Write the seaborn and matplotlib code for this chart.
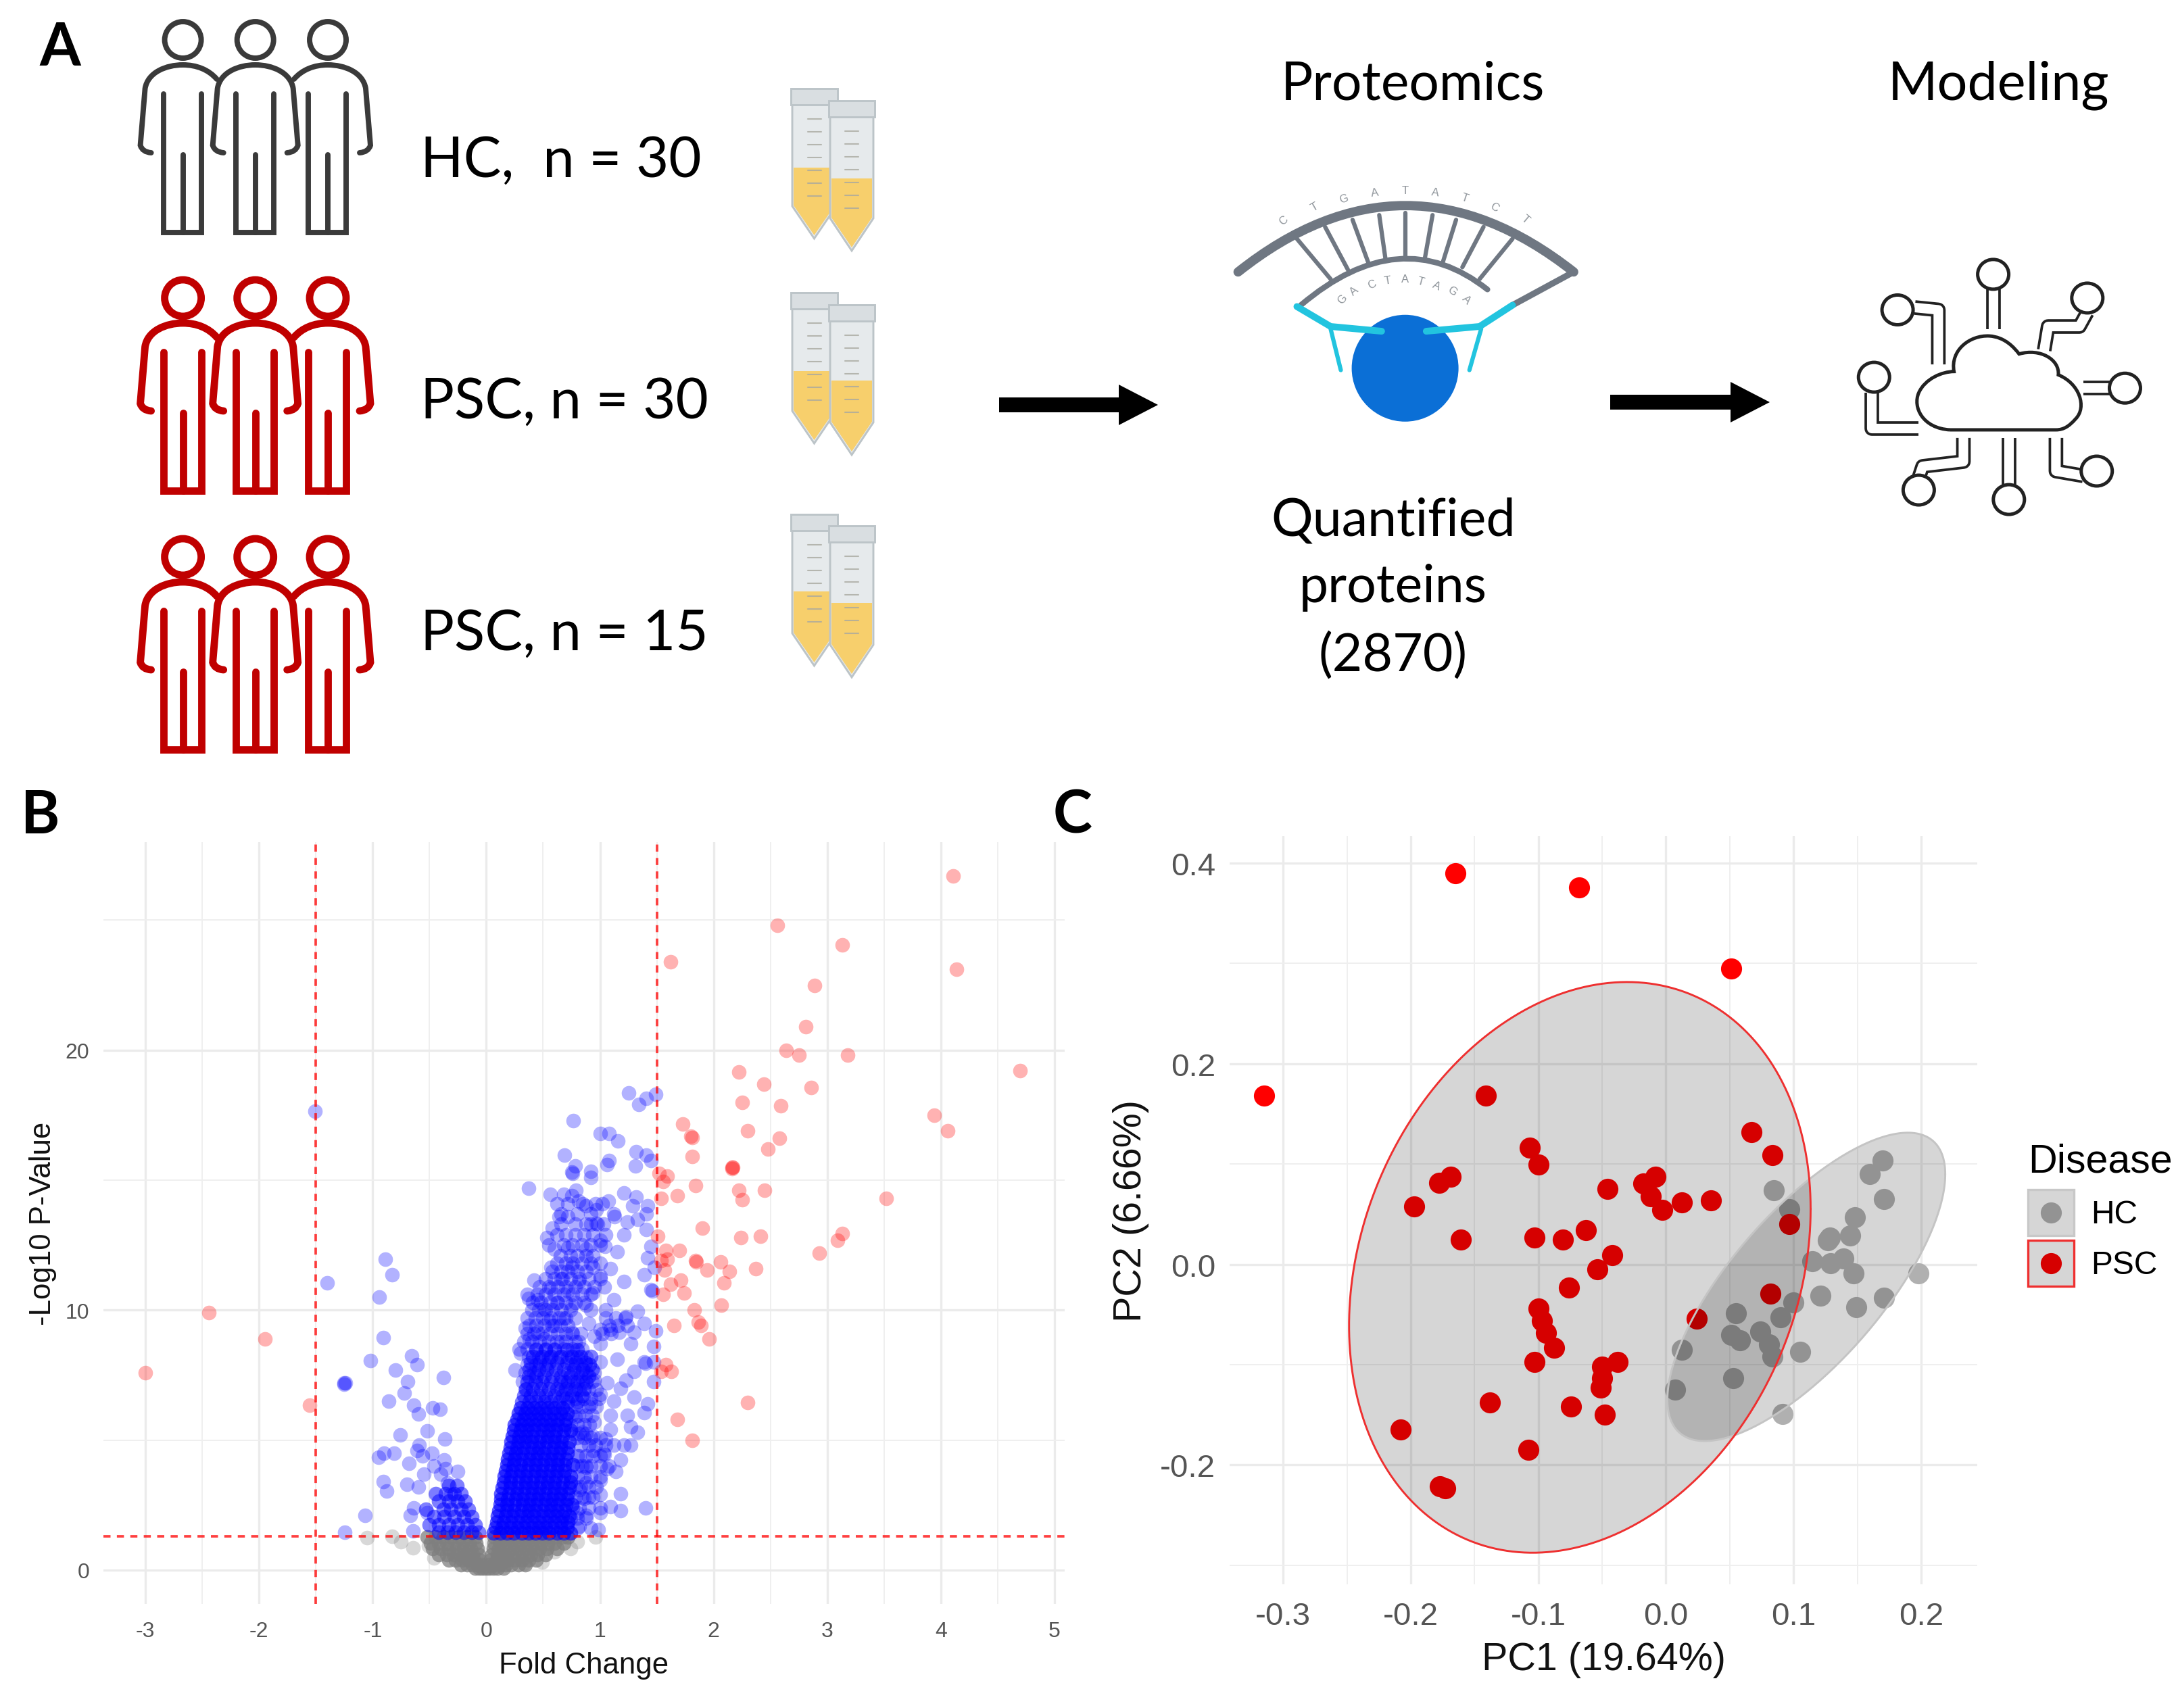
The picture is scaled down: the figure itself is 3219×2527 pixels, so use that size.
import numpy as np
import pandas as pd
import matplotlib
matplotlib.use("Agg")
import matplotlib.pyplot as plt
import seaborn as sns
from matplotlib.path import Path
from matplotlib.patches import PathPatch, Ellipse, Rectangle, Polygon

W, H = 3219, 2528

# volcano, panel B
red_points = [(4.11,26.7),(2.56,24.8),(3.13,24.06),(1.62,23.4),(4.14,23.1),(2.89,22.5),(2.81,20.9),(2.64,20.0),
    (2.75,19.8),(3.18,19.8),(4.70,19.2),(2.22,19.15),(2.44,18.7),(2.86,18.55),(2.25,18.0),(2.59,17.85),(3.94,17.5),
    (4.06,16.9),(1.73,17.15),(1.80,16.7),(1.81,16.65),(2.30,16.9),(2.58,16.6),(2.48,16.2),(1.81,15.9),(2.16,15.5),
    (2.17,15.5),(2.16,15.45),(1.52,15.25),(1.59,15.15),(1.555,14.95),(1.84,14.8),(2.22,14.6),(2.45,14.6),(3.52,14.3),
    (1.54,14.3),(1.68,14.4),(2.25,14.25),(1.90,13.15),(1.51,12.85),(2.24,12.8),(2.41,12.85),(3.13,12.95),(3.09,12.7),
    (2.93,12.2),(1.58,12.3),(1.70,12.3),(1.59,11.95),(1.54,11.9),(1.84,11.9),(1.85,11.85),(2.06,11.85),(1.94,11.55),
    (2.14,11.5),(2.37,11.6),(1.57,11.55),(1.71,11.15),(2.09,11.05),(1.62,11.0),(1.74,10.65),(1.555,10.6),(2.07,10.2),
    (1.83,10.0),(1.865,9.55),(1.89,9.4),(1.65,9.4),(1.96,8.9),(1.58,7.9),(1.54,7.65),(1.63,7.65),(2.30,6.45),(1.68,5.8),
    (1.81,5.0),(-2.44,9.9),(-1.95,8.9),(-3.0,7.6),(-1.555,6.35)]

blue_left = [(-1.51,17.65),(-1.40,11.05),(-0.89,11.95),(-0.83,11.35),(-0.94,10.5),(-0.905,8.95),(-1.02,8.05),(-0.66,8.25),
    (-0.61,7.9),(-0.80,7.7),(-0.38,7.4),(-1.25,7.2),(-1.24,7.2),(-1.25,7.15),(-0.69,7.25),(-0.86,6.5),(-0.72,6.8),(-0.64,6.35),
    (-0.47,6.25),(-0.41,6.2),(-0.60,6.0),(-0.76,5.2),(-0.52,5.35),(-0.365,5.05),(-0.59,4.8),(-0.95,4.35),(-0.90,4.5),
    (-0.81,4.5),(-0.61,4.6),(-0.48,4.5),(-0.68,4.1),(-0.37,4.25),(-0.46,4.0),(-0.25,3.8),(-0.40,3.7),(-0.905,3.4),
    (-0.875,3.05),(-0.70,3.3),(-0.60,3.2),(-0.34,3.35),(-0.45,2.95),(-0.44,2.95),(-0.31,2.9),(-0.64,2.4),(-0.67,2.1),
    (-1.07,2.1),(-1.245,1.45),(-0.645,1.5),(-0.52,2.2),(-0.55,3.7),(-0.36,3.9),(-0.56,4.4)]

blue_upper = [(1.25,18.35),(1.49,18.3),(1.41,18.15),(1.34,17.9),(0.765,17.3),(1.0,16.8),(1.08,16.8),(1.16,16.5),(1.32,16.1),
    (0.69,15.95),(1.41,15.95),(1.45,15.75),(1.08,15.75),(1.06,15.6),(1.31,15.55),(0.78,15.55),(0.75,15.3),(0.76,15.25),
    (0.92,15.35),(0.92,15.1),(0.37,14.7),(0.56,14.45),(0.68,14.45),(0.79,14.6),(0.75,14.4),(1.21,14.5),(1.32,14.35),
    (0.81,14.2),(0.875,14.0),(1.075,14.2),(1.29,14.0),(1.42,14.0),(0.97,13.85),(1.41,13.7),(0.64,13.6),(0.72,13.6),
    (0.97,13.35),(0.98,13.3),(1.13,13.6),(1.24,13.4),(1.33,13.5),(1.41,13.1),(0.58,13.15),(0.53,12.8),(0.78,12.9),
    (1.0,12.7),(1.21,12.9),(0.60,12.35),(0.72,12.4),(0.875,12.35),(1.045,12.45),(1.15,12.25),(1.45,12.45),(1.42,12.0),
    (1.48,11.65),(0.57,11.65),(0.75,11.65),(0.94,11.65),(1.09,11.6),(1.39,11.35),(0.42,11.15),(0.66,11.2),(0.81,11.1),
    (1.0,11.3),(1.21,11.1),(1.45,10.8),(1.46,10.75),(0.57,10.85),(0.72,10.75),(0.94,10.65),(1.12,10.4),(0.37,10.45),
    (0.45,10.4),(0.63,10.3),(0.75,10.2),(0.875,10.2),(0.51,10.05),(1.33,9.95),(1.23,9.75),(1.39,9.5),(0.345,9.3),
    (0.45,9.15),(0.60,9.4),(0.75,9.15),(1.0,9.25),(1.09,9.25),(1.17,9.15),(1.30,9.15),(1.49,9.2),(0.38,8.9),(0.51,8.9),
    (0.66,8.8),(0.81,8.8),(1.27,8.7),(1.0,8.7),(1.47,8.6),(1.39,8.0),(1.40,7.95),(1.47,8.0),(0.30,8.35),(0.255,7.7),
    (1.0,8.0),(1.15,8.1),(1.30,7.65),(1.23,7.3),(1.47,7.25),(1.06,7.2),(1.18,7.0),(1.30,6.65),(1.42,6.4),(1.12,6.5),
    (1.0,6.75),(1.39,6.05),(1.24,5.95),(1.09,5.95),(0.95,5.7),(1.27,5.5),(1.33,5.3),(1.09,5.4),(0.94,5.15),(1.21,4.8),
    (1.05,5.05),(0.94,4.6),(1.03,4.5),(1.04,4.45),(1.27,4.8),(1.18,4.25),(1.06,3.9),(1.14,3.8),(0.875,4.0),(0.88,3.95),
    (1.0,3.45),(0.875,3.35),(0.86,2.75),(1.18,2.95),(1.0,2.9),(1.09,2.45),(1.18,2.3),(1.0,2.2),(1.40,2.4),(0.875,2.1),
    (0.985,1.55),(0.84,5.3),(0.80,4.4),(0.82,3.1),(0.80,2.2),(0.92,6.4),(0.95,7.3),(0.91,7.9),(0.82,1.7),(0.78,5.9),
    (0.95,9.0),(0.90,9.5),(1.05,9.7),(0.68,9.7),(0.55,9.6)]

# dense body of the right arm, one row per y
core_y = [1.42,1.63,1.85,2.07,2.29,2.51,2.73,2.95,3.17,3.39,3.61,3.83,4.05,4.27,4.49,4.71,4.93,5.15,5.37,5.59,5.81,6.03,6.25]
core_x = [
    [.06,.12,.18,.24,.31,.37,.43,.49,.55,.62,.68,.74],
    [.08,.14,.21,.27,.33,.40,.46,.52,.58,.65,.71],
    [.09,.15,.22,.28,.35,.41,.47,.53,.60,.66,.72],
    [.10,.17,.23,.30,.36,.42,.49,.55,.61,.67,.73],
    [.11,.18,.24,.31,.37,.43,.50,.56,.62,.69],
    [.12,.18,.25,.32,.38,.44,.51,.57,.63,.70,.75],
    [.13,.19,.26,.32,.39,.45,.52,.58,.64,.71],
    [.13,.20,.27,.33,.40,.46,.52,.59,.65,.72],
    [.14,.21,.27,.34,.40,.47,.53,.60,.66,.73],
    [.15,.21,.28,.35,.41,.48,.54,.60,.67,.74],
    [.16,.22,.29,.35,.42,.48,.55,.61,.68,.74],
    [.17,.23,.30,.36,.43,.49,.56,.62,.69],
    [.18,.24,.30,.37,.43,.50,.56,.63,.69,.76],
    [.19,.25,.31,.38,.44,.51,.57,.63,.70],
    [.20,.26,.32,.39,.45,.51,.58,.64,.71],
    [.21,.27,.33,.40,.46,.52,.59,.65,.72],
    [.22,.28,.34,.40,.47,.53,.60,.66,.73],
    [.23,.29,.35,.41,.48,.54,.60,.67],
    [.24,.30,.36,.42,.49,.55,.61,.68,.74],
    [.25,.31,.37,.43,.50,.56,.62,.69],
    [.27,.33,.39,.45,.51,.57,.63,.70],
    [.28,.34,.40,.46,.52,.59,.65,.71],
    [.30,.36,.42,.48,.54,.60,.67],
]

# thinner rows: top of the right arm, foot of the left arm
mid_y = [6.47,6.72,6.97,7.22,7.47,7.72,7.97,8.22,8.47,1.45,1.75,2.05,2.35,2.65,2.95,3.25]
mid_x = [
    [.31,.38,.44,.51,.57,.64,.72,.80],
    [.33,.39,.46,.52,.60,.67,.75,.84],
    [.35,.41,.48,.55,.62,.70,.78,.86],
    [.36,.43,.49,.57,.65,.72,.80,.88],
    [.37,.44,.51,.58,.66,.74,.83,.90],
    [.38,.46,.53,.61,.68,.77,.85,.93],
    [.39,.47,.55,.62,.71,.79,.87],
    [.41,.49,.57,.66,.75,.83,.92],
    [.44,.52,.60,.71,.80],
    [-.42,-.34,-.27,-.20,-.13,-.07],
    [-.50,-.42,-.33,-.25,-.17,-.10],
    [-.46,-.37,-.28,-.20,-.13],
    [-.53,-.38,-.31,-.22,-.16],
    [-.42,-.33,-.25,-.19],
    [-.36,-.28,-.22],
    [-.33,-.26],
]

# loose points around the body, single alpha
fill_y = [1.6,2.0,2.4,2.8,3.2,3.6,4.0,4.4,4.8,5.1,5.25,5.6,5.95,6.3,6.6,6.95,7.25,7.6,7.9,8.2,8.5,8.8,9.1,9.4,9.7,10.0,
          10.3,10.6,10.9,11.2,11.5,11.8,12.1,12.5,12.9,13.3,13.7,14.1]
fill_x = [
    [.80,.92],
    [.74,.80,.88],
    [.76,.82,.90,1.0],
    [.78,.84,.90,.94],
    [.78,.83,.90,.97],
    [.80,.86,.92,1.0],
    [.80,.84,.92,1.0,1.08],
    [.82,.88,.94,1.0],
    [.83,.90,.96,1.05,1.12],
    [.80,.86,.92,1.0],
    [.76,.82,.88],
    [.74,.80,.86,.91],
    [.75,.81,.87,.93],
    [.72,.78,.84,.90,.97],
    [.70,.79,.86,.92,.99],
    [.34,.66,.74,.82,.90,.97],
    [.32,.69,.77,.85,.93],
    [.34,.42,.72,.80,.88,.95],
    [.36,.44,.52,.75,.83,.91],
    [.37,.46,.55,.64,.72,.80,.88],
    [.29,.36,.44,.52,.60,.68,.76,.84],
    [.33,.40,.47,.55,.62,.70,.78],
    [.36,.42,.49,.56,.63,.70,.76,.83,1.02,1.1],
    [.38,.44,.51,.58,.65,.72,1.08,1.16,1.24],
    [.36,.43,.50,.57,.64,.70,.78,1.14,1.22],
    [.40,.46,.52,.58,.66,.74,.92,1.05],
    [.41,.48,.56,.62,.70,.78,.86],
    [.36,.45,.52,.60,.68,.76,.84,.92],
    [.47,.55,.63,.70,.78,.86,.95,1.04],
    [.52,.60,.67,.74,.82,.90,1.0],
    [.58,.66,.72,.80,.88],
    [.62,.70,.76,.84,.92,1.0],
    [.65,.74,.80,.88,.94],
    [.55,.68,.76,.84,.92,1.0],
    [.62,.70,.86,.94,1.05],
    [.66,.78,.88,.92,1.03],
    [.66,.80,.92,1.12],
    [.62,.72,.85,.96,1.02],
]

gray_y = [1.28,1.05,.82,.6,.4,.22,.08]
gray_x = [
    [-.52,-.45,-.38,-.31,-.24,-.17,-.10,.07,.13,.19,.25,.31,.37,.43,.49,.55,.61,.67,.72],
    [-.49,-.42,-.35,-.28,-.21,-.15,-.09,.07,.12,.18,.24,.30,.36,.42,.48,.54,.60,.68],
    [-.47,-.40,-.33,-.26,-.20,-.14,-.08,.06,.11,.17,.23,.29,.35,.41,.47,.53,.62],
    [-.42,-.35,-.29,-.23,-.17,-.12,-.07,.05,.10,.15,.21,.27,.33,.39,.45,.52],
    [-.33,-.27,-.21,-.16,-.11,-.06,.04,.09,.14,.19,.25,.31,.37,.44],
    [-.22,-.17,-.12,-.08,-.04,.03,.07,.12,.17,.22,.28,.34],
    [-.10,-.06,-.03,0,.03,.06,.10,.15],
]
gray_sparse = [(-1.05,1.25),(-0.83,1.3),(-0.75,1.1),(-0.645,.87),(-.46,.48),(-.51,.93),(.96,1.27),(.74,.82),(.6,.7),(.49,.3),(.33,.25),(.8,1.1)]

# PCA, panel C
psc_pc = [(-0.165,0.39),(-0.068,0.376),(0.051,0.295),(-0.315,0.168),(-0.141,0.168),(0.067,0.132),(0.0835,0.109),(-0.107,0.1165),
    (-0.100,0.0995),(-0.169,0.0875),(-0.178,0.081),(-0.1975,0.0575),(-0.046,0.075),(-0.0175,0.0805),(-0.008,0.0875),(-0.012,0.068),
    (-0.003,0.0545),(0.0125,0.0615),(0.0355,0.064),(0.0965,0.040),(-0.161,0.025),(-0.103,0.0265),(-0.081,0.025),(-0.063,0.034),
    (-0.042,0.009),(-0.054,-0.005),(-0.076,-0.023),(0.082,-0.0295),(0.024,-0.054),(-0.100,-0.044),(-0.097,-0.056),(-0.094,-0.068),
    (-0.0875,-0.083),(-0.103,-0.097),(-0.05,-0.102),(-0.038,-0.097),(-0.05,-0.1135),(-0.051,-0.123),(-0.138,-0.138),(-0.0745,-0.142),
    (-0.048,-0.15),(-0.2077,-0.165),(-0.108,-0.185),(-0.177,-0.221),(-0.173,-0.2235)]
hc_pc = [(0.17,0.1035),(0.16,0.09),(0.0845,0.074),(0.171,0.065),(0.0965,0.055),(0.148,0.047),(0.1287,0.0265),(0.127,0.024),
    (0.1445,0.0285),(0.139,0.006),(0.147,-0.009),(0.198,-0.009),(0.1145,0.003),(0.129,0.001),(0.121,-0.031),(0.149,-0.043),
    (0.171,-0.033),(0.0999,-0.038),(0.09,-0.053),(0.055,-0.0485),(0.051,-0.07),(0.058,-0.0757),(0.074,-0.067),(0.081,-0.08),
    (0.0835,-0.0917),(0.105,-0.0875),(0.0124,-0.085),(0.0525,-0.1135),(0.0073,-0.125),(0.0914,-0.149)]

# ellipse centre and spread: (cx, cy, var_x, var_y, cov)
psc_ellipse = (-0.0675, -0.003, 0.03272, 0.08094, 0.01053)
hc_ellipse = (0.110, -0.02245, 0.01186, 0.02363, 0.01223)

sns.set_theme(style="whitegrid")
plt.rcParams["font.family"] = ["Liberation Sans", "DejaVu Sans"]
plt.rcParams["axes.unicode_minus"] = False

fig = plt.figure(figsize=(W / 300, H / 300), dpi=300, facecolor="white")


def panel(left, top, right, bottom):
    return fig.add_axes([left / W, 1 - bottom / H, (right - left) / W, (bottom - top) / H])


def rows_to_frame(ys, xs):
    return pd.DataFrame([(x, y) for y, row in zip(ys, xs) for x in row], columns=["x", "y"])


def pairs_to_frame(pairs):
    return pd.DataFrame(pairs, columns=["x", "y"])


def style_axes(ax, xmajor, xminor, ymajor, yminor, size, pad_x, pad_y):
    ax.set_xticks(xmajor)
    ax.set_xticks(xminor, minor=True)
    ax.set_yticks(ymajor)
    ax.set_yticks(yminor, minor=True)
    ax.grid(True, which="major", color="#EBEBEB", lw=0.8)
    ax.grid(True, which="minor", color="#EFEFEF", lw=0.45)
    ax.set_axisbelow(True)
    ax.set_facecolor("white")
    for s in ax.spines.values():
        s.set_visible(False)
    ax.tick_params(which="both", length=0)
    ax.tick_params(axis="x", labelsize=size, labelcolor="#555555", pad=pad_x)
    ax.tick_params(axis="y", labelsize=size, labelcolor="#555555", pad=pad_y)


# ---- B
ax_b = panel(153, 1247, 1575, 2374)
layers = [
    (rows_to_frame(gray_y, gray_x), "#7F7F7F", 0.75),
    (pairs_to_frame(gray_sparse), "#7F7F7F", 0.3),
    (pairs_to_frame(blue_left), "#0000FF", 0.3),
    (rows_to_frame(core_y, core_x), "#0000FF", 0.62),
    (rows_to_frame(mid_y, mid_x), "#0000FF", 0.5),
    (rows_to_frame(fill_y, fill_x), "#0000FF", 0.32),
    (pairs_to_frame(blue_upper), "#0000FF", 0.3),
    (pairs_to_frame(red_points), "#FF0000", 0.3),
]
for frame, color, alpha in layers:
    sns.scatterplot(data=frame, x="x", y="y", ax=ax_b, color=color, alpha=alpha, s=27, linewidth=0, legend=False)
ax_b.set_xlim(-3.37, 5.09)
ax_b.set_ylim(-1.3, 28)
style_axes(ax_b, range(-3, 6), np.arange(-2.5, 5, 1), [0, 10, 20], [5, 15, 25], 7.7, 6, 5)
for x0 in (-1.5, 1.5):
    ax_b.axvline(x0, color="#FF0000", lw=0.9, ls=(0, (2.8, 2.5)), alpha=0.75)
ax_b.axhline(1.3, color="#FF0000", lw=0.9, ls=(0, (2.8, 2.5)), alpha=0.75)
ax_b.set_xlabel("Fold Change", fontsize=10.5, labelpad=3.5, color="#111111")
ax_b.set_ylabel("-Log10 P-Value", fontsize=10.5, labelpad=3, color="#111111")

# ---- C
ax_c = panel(1819, 1238, 2925, 2345)
sns.scatterplot(data=pairs_to_frame(hc_pc), x="x", y="y", ax=ax_c, color="#B0B0B0", s=56, linewidth=0, legend=False)
sns.scatterplot(data=pairs_to_frame(psc_pc), x="x", y="y", ax=ax_c, color="#FF0000", s=56, linewidth=0, legend=False)
t = np.linspace(0, 2 * np.pi, 240)
for (cx, cy, a, b, c), edge in ((hc_ellipse, "#C4C4C4"), (psc_ellipse, "#EE3030")):
    lx = np.sqrt(a)
    ly = c / lx
    lz = np.sqrt(b - ly ** 2)
    ex = cx + lx * np.cos(t)
    ey = cy + ly * np.cos(t) + lz * np.sin(t)
    ax_c.fill(ex, ey, facecolor="black", alpha=0.16, edgecolor="none", zorder=4)
    ax_c.plot(ex, ey, color=edge, lw=0.7, zorder=5)
ax_c.set_xlim(-0.342, 0.244)
ax_c.set_ylim(-0.319, 0.427)
style_axes(ax_c, [-0.3, -0.2, -0.1, 0.0, 0.1, 0.2], [-0.25, -0.15, -0.05, 0.05, 0.15],
           [-0.2, 0.0, 0.2, 0.4], [-0.3, -0.1, 0.1, 0.3], 11.4, 6, 5)
ax_c.set_xlabel("PC1 (19.64%)", fontsize=13.8, labelpad=3.5, color="#111111")
ax_c.set_ylabel("PC2 (6.66%)", fontsize=13.8, labelpad=4, color="#111111")

# ---- overlay in pixel units: panel A and the manual legend
ov = fig.add_axes([0, 0, 1, 1], zorder=-1)
ov.set_xlim(0, W)
ov.set_ylim(H, 0)
ov.axis("off")

LABEL = ["Lato", "DejaVu Sans"]


def person(cx, cy, color, lw, left_arm=True, right_arm=True):
    ov.add_patch(Ellipse((cx, cy), 54, 54, fc="none", ec=color, lw=lw))
    verts = []
    codes = []
    if left_arm:
        verts += [(-47, 167), (-60, 166), (-63, 156), (-56, 72), (-52, 48), (-25, 37), (0, 37)]
        codes += [Path.MOVETO, Path.CURVE3, Path.CURVE3, Path.LINETO, Path.CURVE4, Path.CURVE4, Path.CURVE4]
    else:
        verts += [(-50, 58), (-38, 44), (-20, 37), (0, 37)]
        codes += [Path.MOVETO, Path.CURVE4, Path.CURVE4, Path.CURVE4]
    if right_arm:
        verts += [(25, 37), (52, 48), (56, 72), (63, 156), (60, 166), (47, 167)]
        codes += [Path.CURVE4, Path.CURVE4, Path.CURVE4, Path.LINETO, Path.CURVE3, Path.CURVE3]
    else:
        verts += [(20, 37), (38, 44), (50, 58)]
        codes += [Path.CURVE4, Path.CURVE4, Path.CURVE4]
    shifted = [(cx + v[0], cy + v[1]) for v in verts]
    ov.add_patch(PathPatch(Path(shifted, codes), fc="none", ec=color, lw=lw, capstyle="round"))
    for xs, ys in (([-29, -29, 27, 27], [80, 285, 285, 80]), ([0, 0], [170, 285])):
        ov.plot([cx + v for v in xs], [cy + v for v in ys], color=color, lw=lw, solid_capstyle="round", solid_joinstyle="miter")


def tube(x0, x1, top, tip, liquid):
    mid = (x0 + x1) / 2
    ov.add_patch(Polygon([(x0, top + 10), (x1, top + 10), (x1, tip - 48), (mid, tip), (x0, tip - 48)],
                         fc="#E6EAEC", ec="#BCC4C8", lw=0.7))
    ov.add_patch(Polygon([(x0 + 2, liquid), (x1 - 2, liquid), (x1 - 2, tip - 49), (mid, tip - 5), (x0 + 2, tip - 49)],
                         fc="#F7CF6C", ec="none"))
    ov.add_patch(Rectangle((x0 - 2, top), x1 - x0 + 4, 24, fc="#D9DEE1", ec="#BCC4C8", lw=0.7))
    for yy in np.arange(top + 45, tip - 50, 19):
        ov.plot([mid - 10, mid + 10], [yy, yy], color="#A9A9A0", lw=0.5, alpha=0.8)


rows = [
    (60, "#3A3A3A", 1.9, "HC,  n = 30", 262, (132, 354, 249), (150, 372, 265)),
    (442, "#C00000", 2.6, "PSC, n = 30", 619, (434, 657, 550), (452, 674, 564)),
    (825, "#C00000", 2.6, "PSC, n = 15", 962, (762, 986, 876), (779, 1003, 893)),
]
for head_y, col, lw, label, base, t1, t2 in rows:
    person(270.6, head_y, col, lw, True, False)
    person(377.7, head_y, col, lw, True, True)
    person(485, head_y, col, lw, False, True)
    ov.text(622, base, label, family=LABEL, fontsize=20, color="black", va="baseline")
    tube(1172, 1237, *t1)
    tube(1228, 1292, *t2)

for x0, yy, letter in ((58, 97, "A"), (31, 1233, "B"), (1558, 1233, "C")):
    ov.text(x0, yy, letter, family=LABEL, fontsize=21, fontweight="bold", color="black", va="baseline")

for cx, yy, label, size in ((2090, 147, "Proteomics", 18.9), (2956, 147, "Modeling", 19), (2061, 793, "Quantified", 18.5),
                            (2061, 891, "proteins", 18.5), (2061, 993, "(2870)", 18.5)):
    ov.text(cx, yy, label, family=LABEL, fontsize=size, color="black", ha="center", va="baseline")


def arrow(x0, x1, tip, yc):
    ov.add_patch(Polygon([(x0, yc - 11), (x1, yc - 11), (x1, yc - 30), (tip, yc), (x1, yc + 30), (x1, yc + 11), (x0, yc + 11)],
                         fc="black", ec="none"))


arrow(1478, 1655, 1713, 600)
arrow(2382, 2560, 2618, 596)


def z4(x, y):
    return 1400 + 1.16 * x, 0.7015 * y


# spectrometer glyph
GREY = "#6F7782"
CYAN = "#22C4DF"
ov.add_patch(PathPatch(Path([z4(372, 575), z4(585, 295), z4(800, 575)], [Path.MOVETO, Path.CURVE3, Path.CURVE3]),
                       fc="none", ec=GREY, lw=3.3, capstyle="round"))
ov.add_patch(PathPatch(Path([z4(452, 645), z4(579, 467), z4(690, 612)], [Path.MOVETO, Path.CURVE3, Path.CURVE3]),
                       fc="none", ec=GREY, lw=2.0, capstyle="round"))
rungs = [((490, 590), (447, 505)), ((512, 570), (483, 480)), ((538, 555), (518, 465)), ((560, 548), (552, 455)),
         ((585, 545), (585, 450)), ((610, 548), (620, 455)), ((633, 555), (650, 465)), ((658, 565), (685, 480)),
         ((680, 590), (722, 505))]
for p, q in rungs:
    a, b = z4(*p), z4(*q)
    ov.plot([a[0], b[0]], [a[1], b[1]], color=GREY, lw=1.5, solid_capstyle="round")
a, b = z4(800, 575), z4(722, 645)
ov.plot([a[0], b[0]], [a[1], b[1]], color=GREY, lw=2.2, solid_capstyle="round")
ov.add_patch(Ellipse(z4(585, 778), 158, 158, fc="#0B6FD6", ec="none"))
for pts in ([(447, 648), (490, 690), (555, 700)], [(722, 645), (680, 690), (612, 700)]):
    xy = np.array([z4(*p) for p in pts])
    ov.plot(xy[:, 0], xy[:, 1], color=CYAN, lw=2.4, solid_capstyle="round")
for p, q in (((490, 695), (503, 782)), ((682, 695), (667, 782))):
    a, b = z4(*p), z4(*q)
    ov.plot([a[0], b[0]], [a[1], b[1]], color=CYAN, lw=1.5)
outer_letters = [("C", 430, 465, 40), ("T", 470, 437, 30), ("G", 507, 420, 18), ("A", 546, 407, 8), ("T", 585, 402, 0),
                 ("A", 623, 407, -8), ("T", 661, 418, -18), ("C", 699, 438, -30), ("T", 738, 463, -40)]
inner_letters = [("G", 505, 632, 50), ("A", 520, 615, 40), ("C", 543, 600, 25), ("T", 563, 592, 10), ("A", 585, 590, 0),
                 ("T", 605, 595, -15), ("A", 625, 603, -25), ("G", 645, 615, -35), ("A", 663, 632, -45)]
for letter, zx, zy, rot in outer_letters + inner_letters:
    px, py = z4(zx, zy)
    ov.text(px, py, letter, fontsize=4, color="#8E949A", rotation=rot, ha="center", va="center")

# cloud glyph
cloud = [(1280, 908), (1245, 905), (1232, 860), (1240, 830), (1248, 800), (1270, 785), (1285, 785), (1280, 740), (1305, 708), (1330, 710),
         (1350, 712), (1362, 735), (1368, 748), (1395, 735), (1420, 760), (1418, 792), (1445, 810), (1455, 860), (1440, 885),
         (1432, 900), (1425, 908), (1415, 908), (1280, 908)]
cloud_codes = [Path.MOVETO] + [Path.CURVE4] * 21 + [Path.LINETO]
ov.add_patch(PathPatch(Path([z4(*p) for p in cloud], cloud_codes), fc="white", ec="#222222", lw=1.2, zorder=3))
traces = [
    ([(1335, 695), (1335, 610)], (1335, 580)),
    ([(1265, 770), (1265, 655), (1235, 650)], (1213, 655)),
    ([(1400, 740), (1405, 690), (1445, 690), (1455, 660)], (1455, 630)),
    ([(1240, 905), (1180, 905), (1180, 830)], (1183, 797)),
    ([(1450, 820), (1490, 820)], (1503, 820)),
    ([(1297, 925), (1297, 975), (1245, 985), (1240, 1010)], (1240, 1035)),
    ([(1355, 925), (1355, 1025)], (1355, 1055)),
    ([(1415, 925), (1415, 995), (1450, 1005)], (1467, 995)),
]
for pts, end in traces:
    xy = np.array([z4(*p) for p in pts])
    ov.plot(xy[:, 0], xy[:, 1], color="#222222", lw=5.2, solid_joinstyle="round", solid_capstyle="butt", zorder=1)
    ov.plot(xy[:, 0], xy[:, 1], color="white", lw=3.4, solid_joinstyle="round", zorder=2)
    ov.add_patch(Ellipse(z4(*end), 46, 44, fc="white", ec="#222222", lw=1.2, zorder=2))

# legend of panel C
ov.text(3000, 1735, "Disease", fontsize=14.2, color="black", va="baseline")
for top, edge, dot, label in ((1761, "#C8C8C8", "#B0B0B0", "HC"), (1836, "#EE3030", "#FF0000", "PSC")):
    ov.scatter([3034], [top + 34], s=56, color=dot, linewidth=0, zorder=2)
    ov.add_patch(Rectangle((3000, top), 68, 68, fc="black", alpha=0.16, ec="none", zorder=3))
    ov.add_patch(Rectangle((3000, top), 68, 68, fc="none", ec=edge, lw=0.8, zorder=4))
    ov.text(3093, top + 37, label, fontsize=11.5, color="black", va="center")
ov.set_xlim(0, W)
ov.set_ylim(H, 0)

fig.savefig("out.png", dpi=300)
